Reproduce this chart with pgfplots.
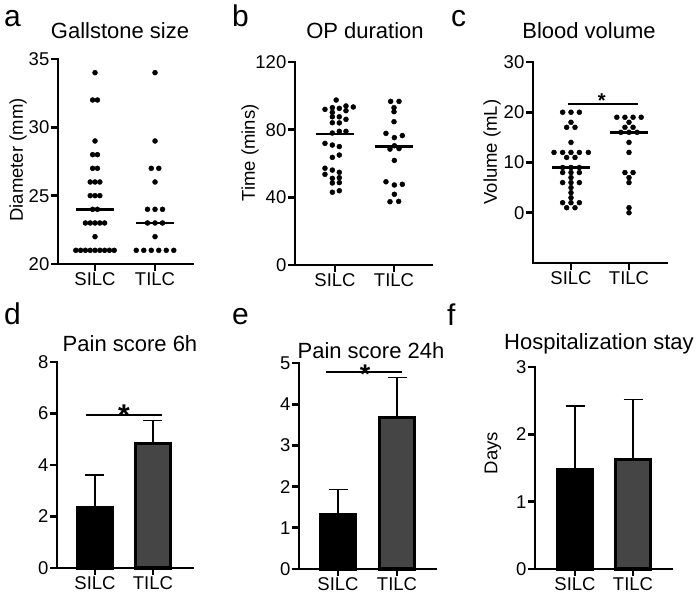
\documentclass[border=0pt]{standalone}
\usepackage{fontspec}
\setmainfont{Liberation Sans}
\usepackage{pgfplots}
\pgfplotsset{compat=1.18}

\pgfplotsset{
  gp/.style={
    scale only axis, anchor=south west, clip=false,
    axis x line=bottom, axis y line=left,
    axis line style={line width=2.8pt, -, line cap=rect},
    tick style={line width=2.8pt, black},
    major tick length=7pt, tick align=outside,
    xtick={1,2}, xticklabels={SILC,TILC},
    ticklabel style={font=\fontsize{18.5}{20}\selectfont, inner sep=1.5pt},
    /pgf/number format/assume math mode=true,
  },
  dots/.style={only marks, mark=*, mark size=2.5pt, black},
  med/.style={black, line width=2.6pt, no marks},
  sig/.style={black, line width=1.8pt, no marks},
  bars/.style={ybar, bar width=35pt, bar shift=0pt, draw=black, line width=3.2pt,
    /pgfplots/error bars/y dir=plus, /pgfplots/error bars/y explicit,
    /pgfplots/error bars/error bar style={line width=1.4pt, black},
    /pgfplots/error bars/error mark options={rotate=90, line width=1.4pt, black, mark size=9.5pt}},
}
\newcommand{\ttl}{\fontsize{22}{24}\selectfont}
\newcommand{\lbl}{\fontsize{18.5}{20}\selectfont}
\newcommand{\pl}{\fontsize{30}{30}\selectfont}
\definecolor{tilc}{HTML}{454545}

\begin{document}
\begin{tikzpicture}
\useasboundingbox (0,0) rectangle (697pt,601pt);

% panel letters
\node[anchor=base west, inner sep=0pt] at (4pt,574pt) {\pl a};
\node[anchor=base west, inner sep=0pt] at (232pt,574pt) {\pl b};
\node[anchor=base west, inner sep=0pt] at (451pt,574pt) {\pl c};
\node[anchor=base west, inner sep=0pt] at (4pt,276pt) {\pl d};
\node[anchor=base west, inner sep=0pt] at (232pt,276pt) {\pl e};
\node[anchor=base west, inner sep=0pt] at (447pt,275pt) {\pl f};

% titles
\node[anchor=base, inner sep=0pt] at (120pt,562pt) {\ttl Gallstone size};
\node[anchor=base, inner sep=0pt] at (365pt,562pt) {\ttl OP duration};
\node[anchor=base, inner sep=0pt] at (589pt,562pt) {\ttl Blood volume};
\node[anchor=base, inner sep=0pt] at (130pt,249pt) {\ttl Pain score 6h};
\node[anchor=base, inner sep=0pt] at (371pt,242pt) {\ttl Pain score 24h};
\node[anchor=base, inner sep=0pt] at (599pt,251pt) {\ttl Hospitalization stay};

% y labels
\node[rotate=90, inner sep=0pt] at (18pt,441pt) {\lbl Diameter (mm)};
\node[rotate=90, inner sep=0pt] at (250pt,448pt) {\lbl Time (mins)};
\node[rotate=90, inner sep=0pt] at (492pt,449pt) {\lbl Volume (mL)};
\node[rotate=90, inner sep=0pt] at (493pt,148pt) {\lbl Days};

% a: gallstone size
\begin{axis}[gp, at={(58pt,337pt)}, width=135pt, height=205pt,
  xmin=0.383, xmax=2.633, ymin=20, ymax=35, ytick={20,25,30,35}]
\addplot[dots] coordinates {
 (1,34) (0.96,32) (1.04,32) (1,29) (0.96,28) (1.04,28) (0.96,27) (1.04,27)
 (0.92,26) (1,26) (1.08,26) (0.92,25) (1,25) (1.08,25) (0.96,24) (1.04,24)
 (0.84,23) (0.92,23) (1,23) (1.08,23) (1.16,23) (1,22)
 (0.68,21) (0.76,21) (0.84,21) (0.92,21) (1,21) (1.08,21) (1.16,21) (1.24,21) (1.32,21)};
\addplot[dots] coordinates {
 (2,34) (2,29) (1.9375,27) (2.0625,27) (2,26) (1.875,24) (2,24) (2.125,24)
 (1.875,23) (2,23) (2.125,23) (2,22)
 (1.6875,21) (1.8125,21) (1.9375,21) (2.0625,21) (2.1875,21) (2.3125,21)};
\addplot[med] coordinates {(0.68,24) (1.32,24)};
\addplot[med] coordinates {(1.68,23) (2.32,23)};
\end{axis}

% b: OP duration
\begin{axis}[gp, at={(295pt,336pt)}, width=137pt, height=203pt,
  xmin=0.322, xmax=2.644, ymin=0, ymax=120, ytick={0,40,80,120}]
\addplot[dots] coordinates {
 (1.02,97.5)
 (0.83,92) (0.955,93) (1.073,92.6) (1.186,94) (1.31,93.4)
 (0.955,90.2) (1.186,91.2)
 (0.955,87.6) (1.073,87.6) (1.186,86.1)
 (0.955,84.1) (1.073,84)
 (0.955,78) (1.073,79) (1.186,79)
 (0.83,71.9) (0.955,70.9) (1.073,70)
 (0.955,63.6) (1.073,65)
 (0.83,57.2) (0.955,56.1) (1.073,54.8)
 (0.83,53.6) (0.955,51.2) (1.073,51.6)
 (0.955,48.5) (1.073,48.7)
 (0.955,43) (1.073,43.9)};
\addplot[dots] coordinates {
 (1.943,96.7) (2.085,96.7) (2,93) (2,90.6) (2,84.7)
 (1.864,77.8) (2.141,76.5) (2.006,75.3)
 (1.932,68.5) (2.006,70.5) (2.085,68.8)
 (2.006,61.8)
 (1.864,49.2) (2.006,47.3) (2.141,47.7)
 (2.006,41.8)
 (1.932,37.4) (2.079,37.6)};
\addplot[med] coordinates {(0.67,77.5) (1.33,77.5)};
\addplot[med] coordinates {(1.68,70) (2.32,70)};
\end{axis}

% c: blood volume
\begin{axis}[gp, at={(533pt,338pt)}, width=134pt, height=201pt,
  xmin=0.345, xmax=2.655, ymin=-10, ymax=30, ytick={0,10,20,30}]
\addplot[dots] coordinates {
 (0.856,20) (1,20) (1.144,20) (1,18) (0.925,17) (1.069,17) (1,14)
 (0.707,12) (0.856,12) (1,12) (1.144,12) (1.299,12) (0.925,11) (1.069,11)
 (0.856,9) (1,9) (1.144,9) (0.856,8) (1,8) (1.144,8) (1,7)
 (0.856,6) (1,6) (1.144,6) (1,5) (1,4) (1,3)
 (0.856,2) (1,2) (1.144,2) (0.925,1) (1.069,1)};
\addplot[dots] coordinates {
 (1.79,19) (1.93,19) (2.07,19) (2.21,19) (2,18) (1.93,17) (2.07,17)
 (1.86,16) (2,16) (2.14,16) (2,14) (2,12) (1.93,8) (2.07,8) (2,7) (2,6)
 (2,1) (2,0)};
\addplot[med] coordinates {(0.67,9) (1.33,9)};
\addplot[med] coordinates {(1.67,16) (2.33,16)};
\addplot[sig] coordinates {(0.94,21.6) (2.16,21.6)};
\node[anchor=base, inner sep=0pt] at (axis cs:1.53,20.9) {\fontsize{20}{20}\selectfont\bfseries *};
\end{axis}

% d: pain score 6h
\begin{axis}[gp, at={(57pt,33pt)}, width=136pt, height=206pt,
  xmin=0.345, xmax=2.69, ymin=0, ymax=8, ytick={0,2,4,6,8}]
\addplot[bars, fill=black] coordinates {(1,2.34) +- (0,1.27)};
\addplot[bars, fill=tilc] coordinates {(2,4.82) +- (0,0.9)};
\addplot[sig] coordinates {(0.845,5.94) (2.16,5.94)};
\node[anchor=base, inner sep=0pt] at (axis cs:1.5,5.55) {\fontsize{30}{30}\selectfont\bfseries *};
\end{axis}

% e: pain score 24h
\begin{axis}[gp, at={(299pt,32pt)}, width=137pt, height=206pt,
  xmin=0.339, xmax=2.661, ymin=0, ymax=5, ytick={0,1,2,3,4,5}]
\addplot[bars, fill=black] coordinates {(1,1.31) +- (0,0.62)};
\addplot[bars, fill=tilc] coordinates {(2,3.68) +- (0,0.97)};
\addplot[sig] coordinates {(0.8,4.79) (2.08,4.79)};
\node[anchor=base, inner sep=0pt] at (axis cs:1.46,4.5) {\fontsize{27}{27}\selectfont\bfseries *};
\end{axis}

% f: hospitalization stay
\begin{axis}[gp, at={(535pt,32pt)}, width=137pt, height=202pt,
  xmin=0.31, xmax=2.672, ymin=0, ymax=3, ytick={0,1,2,3}]
\addplot[bars, fill=black] coordinates {(1,1.48) +- (0,0.94)};
\addplot[bars, fill=tilc] coordinates {(2,1.63) +- (0,0.89)};
\end{axis}
\end{tikzpicture}
\end{document}
